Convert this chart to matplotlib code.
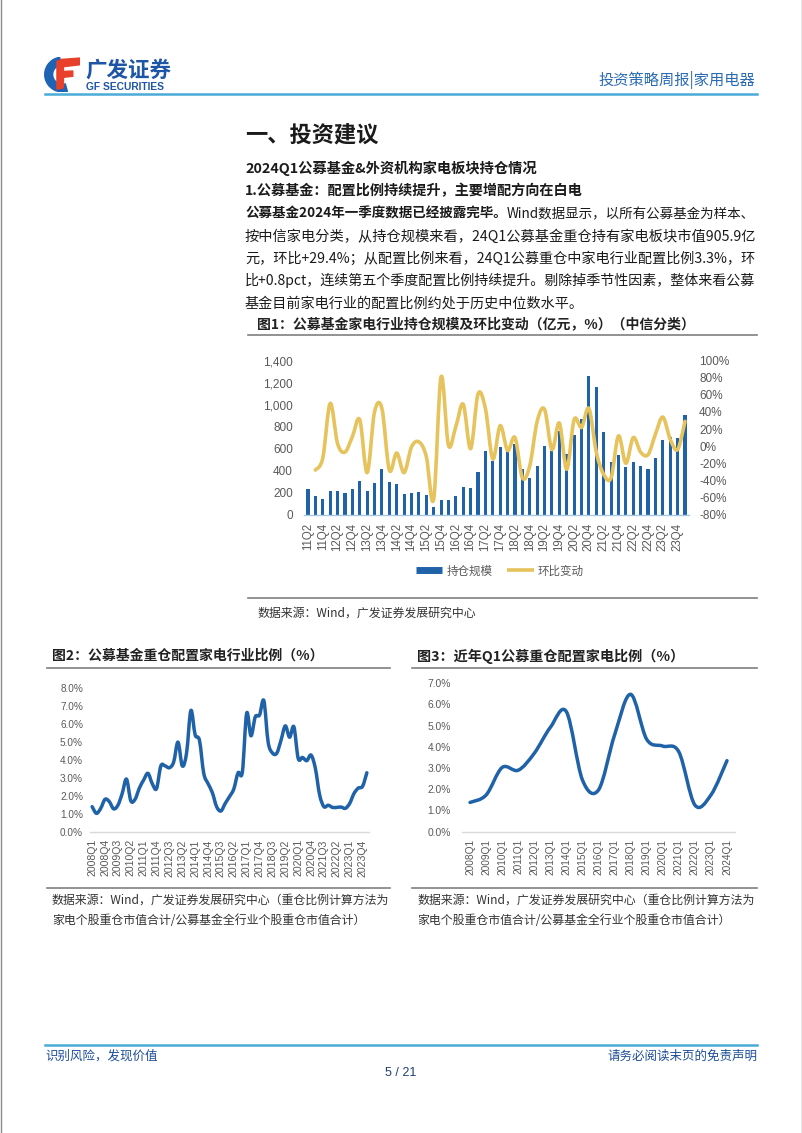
import numpy as np
import matplotlib
matplotlib.use('Agg')
import matplotlib.pyplot as plt
from matplotlib.path import Path
from matplotlib.patches import PathPatch, Polygon, Wedge
from matplotlib.lines import Line2D
from matplotlib.ticker import FuncFormatter, MultipleLocator

W, H = 802, 1133
CJK = ['Noto Sans CJK SC', 'DejaVu Sans']
NUM = ['Liberation Sans', 'Noto Sans CJK SC', 'DejaVu Sans']
plt.rcParams['font.family'] = CJK

BLUE = '#1F62A8'
GOLD = '#E6C35C'
GREY = '#595959'

# ---------------- data ----------------
# fig 1: 2011Q2 .. 2024Q1
q1_labels = ['%02dQ%d' % (y % 100, q) for y in range(2011, 2025) for q in range(1, 5)][1:53]
holdings = [230, 165, 145, 215, 215, 200, 235, 305, 210, 285, 410, 295, 275,
            190, 195, 205, 175, 70, 135, 135, 165, 250, 245, 390, 580, 490,
            610, 575, 640, 410, 330, 440, 625, 580, 760, 555, 720, 870, 1260,
            1160, 750, 480, 545, 435, 480, 445, 410, 510, 680, 710, 700, 906]
# QoQ change (%), from 2011Q3
qoq = [-28, -14, 50, 3, -7, 11, 31, -31, 40, 44, -28, -8, -31, -1, 5, -12,
       -62, 81, 1, 23, 49, -3, 61, 44, -15, 24, -5, 10, -37, -23, 29, 43,
       -4, 27, -27, 31, 22, 44, -7, -33, -37, 12, -20, 10, -7, -10, 14, 34,
       8, -4, 29]

# fig 2: 2008Q1 .. 2024Q1
q2_labels = ['%dQ%d' % (y, q) for y in range(2008, 2025) for q in range(1, 5)][:65]
ratio_q = [1.42, 1.05, 1.33, 1.83, 1.70, 1.30, 1.50, 2.15, 2.95, 1.75,
           1.83, 2.45, 2.90, 3.27, 2.70, 2.42, 3.68, 3.68, 3.58, 3.90,
           5.00, 3.68, 4.40, 6.75, 5.40, 5.10, 3.27, 2.70, 2.20, 1.42,
           1.18, 1.60, 1.98, 2.40, 3.30, 3.35, 6.60, 5.35, 6.40, 6.50,
           7.30, 5.00, 4.40, 4.38, 5.10, 5.90, 5.27, 5.85, 4.10, 4.15,
           3.97, 4.28, 3.55, 2.07, 1.42, 1.50, 1.38, 1.38, 1.40, 1.33,
           1.60, 2.15, 2.45, 2.55, 3.30]

# fig 3: Q1 of each year
q3_labels = ['%dQ1' % y for y in range(2008, 2025)]
ratio_q1 = [1.38, 1.73, 3.03, 2.90, 3.70, 4.92, 5.66, 2.44, 1.97, 4.56,
            6.48, 4.36, 4.04, 3.77, 1.26, 1.73, 3.35]

para_lines = [
    ('公募基金2024年一季度数据已经披露完毕。', 'Wind数据显示，以所有公募基金为样本、'),
    ('', '按中信家电分类，从持仓规模来看，24Q1公募基金重仓持有家电板块市值905.9亿'),
    ('', '元，环比+29.4%；从配置比例来看，24Q1公募重仓中家电行业配置比例3.3%，环'),
    ('', '比+0.8pct，连续第五个季度配置比例持续提升。剔除掉季节性因素，整体来看公募'),
    ('', '基金目前家电行业的配置比例约处于历史中位数水平。'),
]


def smooth_path(x, y):
    # Excel style smoothed line (cubic bezier through the points)
    p = np.column_stack([x, y]).astype(float)
    n = len(p)
    verts, codes = [p[0]], [Path.MOVETO]
    for i in range(n - 1):
        a = p[i - 1] if i > 0 else p[i]
        d = p[i + 2] if i + 2 < n else p[i + 1]
        verts += [p[i] + (p[i + 1] - a) / 6, p[i + 1] - (d - p[i]) / 6, p[i + 1]]
        codes += [Path.CURVE4] * 3
    return Path(verts, codes)


def px_axes(fig, x0, y0, x1, y1):
    return fig.add_axes([x0 / W, 1 - y1 / H, (x1 - x0) / W, (y1 - y0) / H])


fig = plt.figure(figsize=(W / 100, H / 100), dpi=100)
renderer = fig.canvas.get_renderer()

# page layer in pixel coordinates
page = fig.add_axes([0, 0, 1, 1])
page.set_xlim(0, W)
page.set_ylim(H, 0)
page.axis('off')

page.plot([0.5, 0.5], [0, H], color='#8C8C8C', lw=1)
page.plot([W - 0.5, W - 0.5], [0, H], color='#8C8C8C', lw=1)

# header
page.text(85, 70, '广发证券', fontsize=15.5, fontweight='bold', color='#1D56A6', va='center')
page.text(86, 86.5, 'GF SECURITIES', fontsize=7.4, fontweight='bold', color='#1D56A6',
          va='center', family=NUM)
page.text(755, 80, '投资策略周报|家用电器', fontsize=11, color='#2B6BB5', va='center', ha='right')
page.plot([45, 757], [93.5, 93.5], color='#4AAAD8', lw=1.8)

logo = px_axes(fig, 44, 57, 80, 92)
logo.set_xlim(0, 1)
logo.set_ylim(0, 1)
logo.axis('off')
logo.add_patch(Wedge((0.52, 0.5), 0.5, 100, 285, width=0.22, color='#1E63B4'))
logo.add_patch(Polygon([(0.36, 0.70), (1.0, 0.78), (1.0, 0.97), (0.46, 0.93)], color='#E8402A'))
logo.add_patch(Polygon([(0.38, 0.40), (0.80, 0.45), (0.80, 0.60), (0.38, 0.58)], color='#E8402A'))
logo.add_patch(Polygon([(0.36, 0.08), (0.54, 0.12), (0.54, 0.90), (0.36, 0.88)], color='#E8402A'))

# body text
TXT = '#1A1A1A'
page.text(245, 135, '一、投资建议', fontsize=16, fontweight='bold', color=TXT, va='center')
page.text(245, 168, '2024Q1公募基金&外资机构家电板块持仓情况', fontsize=10.3,
          fontweight='bold', color=TXT, va='center')
page.text(245, 191, '1.公募基金：配置比例持续提升，主要增配方向在白电', fontsize=10.2,
          fontweight='bold', color=TXT, va='center')
y = 214
fs = 10.5
for i, (bold, rest) in enumerate(para_lines):
    objs = []
    if bold:
        t = page.text(245, y, bold, fontsize=fs, fontweight='bold', color=TXT, va='center')
        objs += [t, page.annotate(rest, xy=(1, 0), xycoords=t, va='bottom', ha='left',
                                  fontsize=fs, color=TXT)]
    else:
        objs.append(page.text(245, y, rest, fontsize=fs, color=TXT, va='center'))
    if i < len(para_lines) - 1:
        # justified lines: fit to the text column width
        w = sum(o.get_window_extent(renderer).width for o in objs)
        for o in objs:
            o.set_fontsize(fs * 512 / w)
    else:
        objs[0].set_fontsize(10.15)
    y += 22.3

# figure titles and rules
TC = '#222222'
RC = '#7F7F7F'
page.text(257, 324, '图1：公募基金家电行业持仓规模及环比变动（亿元，%）（中信分类）',
          fontsize=10, fontweight='bold', color=TC, va='center')
page.plot([248, 757], [335, 335], color=RC, lw=1.2)
page.plot([248, 757], [598, 598], color=RC, lw=1.2)
page.text(258, 613, '数据来源：Wind，广发证券发展研究中心', fontsize=8.6, color='#333333', va='center')

page.text(52, 656, '图2：公募基金重仓配置家电行业比例（%）', fontsize=10, fontweight='bold',
          color=TC, va='center')
page.text(417, 656, '图3：近年Q1公募重仓配置家电比例（%）', fontsize=10.2, fontweight='bold',
          color=TC, va='center')
for x0, x1 in [(47, 390), (412, 757)]:
    page.plot([x0, x1], [668, 668], color=RC, lw=1.2)
    page.plot([x0, x1], [888, 888], color=RC, lw=1.2)
for x0 in (52, 417):
    page.text(x0, 900, '数据来源：Wind，广发证券发展研究中心（重仓比例计算方法为',
              fontsize=8.6, color='#333333', va='center')
    page.text(x0, 920, '家电个股重仓市值合计/公募基金全行业个股重仓市值合计）',
              fontsize=8.6, color='#333333', va='center')

# footer
page.plot([45, 757], [1045, 1045], color='#4AAAD8', lw=1.8)
page.text(45, 1056, '识别风险，发现价值', fontsize=9, color='#1F4E9A', va='center')
page.text(757, 1056, '请务必阅读末页的免责声明', fontsize=9, color='#1F4E9A', va='center', ha='right')
page.text(401, 1073, '5 / 21', fontsize=9, color='#1F3F6F', va='center', ha='center', family=NUM)


def style_axes(ax, base_color):
    for s in ('top', 'left', 'right'):
        ax.spines[s].set_visible(False)
    ax.spines['bottom'].set_color(base_color)
    ax.spines['bottom'].set_linewidth(1)
    ax.tick_params(length=0, labelcolor=GREY)
    ax.set_facecolor('none')


# ---------------- fig 1 ----------------
ax1 = px_axes(fig, 304.3, 360.7, 688.7, 514.5)
x1 = np.arange(len(holdings))
ax1.bar(x1, holdings, width=0.42, color=BLUE, zorder=2)
ax1.set_xlim(-0.5, len(holdings) - 0.5)
ax1.set_ylim(0, 1400)
ax1.yaxis.set_major_locator(MultipleLocator(200))
ax1.yaxis.set_major_formatter(FuncFormatter(lambda v, p: '{:,.0f}'.format(v)))
ax1.set_xticks(x1[::2])
ax1.set_xticklabels(q1_labels[::2], rotation=90, family=NUM, fontsize=8.3)
style_axes(ax1, '#A9C8E6')
ax1.tick_params(axis='y', pad=8.3, labelsize=8.5)
ax1.tick_params(axis='x', pad=6)
for lab in ax1.get_yticklabels():
    lab.set_family(NUM)

ax1r = ax1.twinx()
ax1r.set_ylim(-80, 100)
ax1r.yaxis.set_major_locator(MultipleLocator(20))
ax1r.yaxis.set_major_formatter(FuncFormatter(lambda v, p: '%d%%' % round(v)))
ax1r.add_patch(PathPatch(smooth_path(x1[1:], qoq), fill=False, edgecolor=GOLD, lw=2.6,
                         capstyle='round', joinstyle='round', zorder=3))
style_axes(ax1r, 'none')
ax1r.spines['bottom'].set_visible(False)
ax1r.tick_params(axis='y', pad=7.5, labelsize=8.5)
for lab in ax1r.get_yticklabels():
    lab.set_family(NUM)

handles = [Line2D([], [], color=BLUE, lw=5, solid_capstyle='butt'),
           Line2D([], [], color=GOLD, lw=2.6, solid_capstyle='butt')]
fig.legend(handles, ['持仓规模', '环比变动'], loc='center', ncol=2, frameon=False,
           bbox_to_anchor=(500 / W, 1 - 571 / H), fontsize=8.3, handlelength=2.3,
           handletextpad=0.35, columnspacing=1.3, labelcolor=GREY)

# ---------------- fig 2 ----------------
ax2 = px_axes(fig, 90, 688, 369, 832.3)
x2 = np.arange(len(ratio_q))
ax2.add_patch(PathPatch(smooth_path(x2, ratio_q), fill=False, edgecolor=BLUE, lw=2.5,
                        capstyle='round', joinstyle='round'))
ax2.set_xlim(-0.5, len(ratio_q) - 0.5)
ax2.set_ylim(0, 8)
ax2.yaxis.set_major_locator(MultipleLocator(1))
ax2.yaxis.set_major_formatter(FuncFormatter(lambda v, p: '%.1f%%' % v))
ax2.set_xticks(x2[::3])
ax2.set_xticklabels(q2_labels[::3], rotation=90, family=NUM, fontsize=7.6)
style_axes(ax2, '#D9D9D9')
ax2.tick_params(axis='y', pad=5, labelsize=7.2)
ax2.tick_params(axis='x', pad=5)
for lab in ax2.get_yticklabels():
    lab.set_family(NUM)

# ---------------- fig 3 ----------------
ax3 = px_axes(fig, 462, 683.3, 735, 831.7)
x3 = np.arange(len(ratio_q1))
ax3.add_patch(PathPatch(smooth_path(x3, ratio_q1), fill=False, edgecolor=BLUE, lw=2.5,
                        capstyle='round', joinstyle='round'))
ax3.set_xlim(-0.5, len(ratio_q1) - 0.5)
ax3.set_ylim(0, 7)
ax3.yaxis.set_major_locator(MultipleLocator(1))
ax3.yaxis.set_major_formatter(FuncFormatter(lambda v, p: '%.1f%%' % v))
ax3.set_xticks(x3)
ax3.set_xticklabels(q3_labels, rotation=90, family=NUM, fontsize=7.3)
style_axes(ax3, '#D9D9D9')
ax3.tick_params(axis='y', pad=8, labelsize=7.4)
ax3.tick_params(axis='x', pad=5)
for lab in ax3.get_yticklabels():
    lab.set_family(NUM)

fig.savefig('out.png', dpi=100)
